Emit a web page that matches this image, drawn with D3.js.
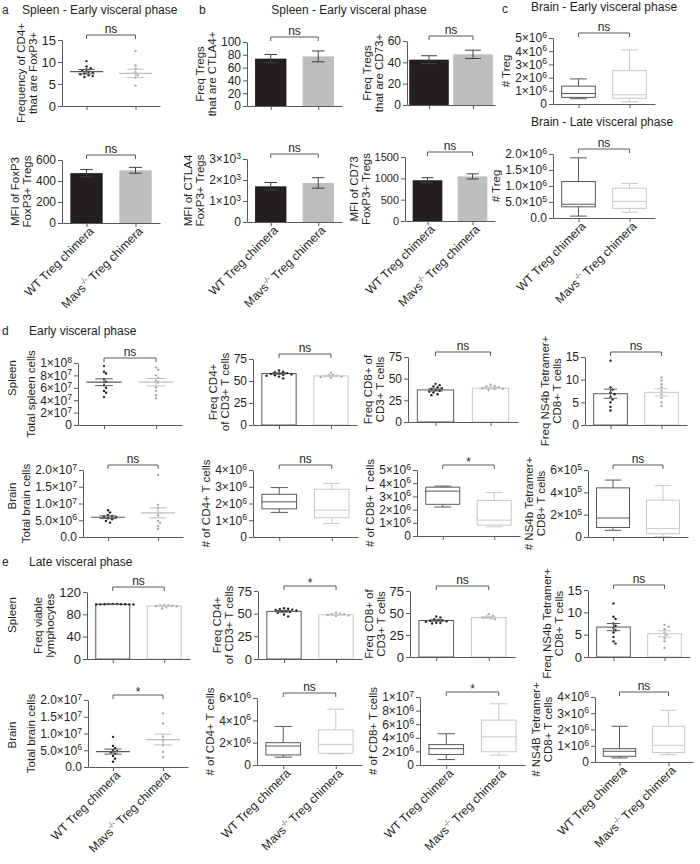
<!DOCTYPE html>
<html>
<head>
<meta charset="utf-8">
<script src="https://cdn.jsdelivr.net/npm/d3@7"></script>
<style>
  body { margin: 0; background: #fff; }
  svg { font-family: "Liberation Sans", Arial, sans-serif; }
  svg text { fill: #231f20; }
  .axis text { font-size: 12px; }
  .axis line, .axis path { stroke: #58595b; }
  .ytitle { font-size: 11.5px; }
  .xlab { font-size: 12px; }
  .head { font-size: 12px; }
  .sig { font-size: 12px; }
</style>
</head>
<body>
<svg id="fig" width="700" height="864"></svg>
<script>

// groups, in order
const groupNames = ["WT Treg chimera", "Mavs-/- Treg chimera"]

// a - spleen, early visceral phase
const a1Dots = [[10.2, 9.0, 8.6, 8.3, 8.0, 7.8, 7.6, 7.4, 7.2, 7.0, 6.8, 6.6], [12.5, 9.2, 8.5, 7.6, 7.0, 6.4, 4.6]]
const a1Mean = [7.8, 7.4], a1Sem = [0.5, 0.95]
const a2Mean = [475, 502], a2Sem = [35, 28]

// b - spleen, early visceral phase
const b1Mean = [74, 77.5], b1Sem = [6.5, 8.5]
const b2Mean = [42.5, 47.5], b2Sem = [3.7, 3.9]
const b3Mean = [1700, 1860], b3Sem = [180, 250]
const b4Mean = [955, 1045], b4Sem = [60, 60]

// c - brain, boxes are [min, q1, median, q3, max]
const c1Box = [[0.4e6, 0.5e6, 0.8e6, 1.35e6, 1.9e6], [0.17e6, 0.43e6, 0.7e6, 2.53e6, 4.1e6]]
const c2Box = [[0.06e6, 0.35e6, 0.43e6, 1.14e6, 1.88e6], [0.18e6, 0.3e6, 0.52e6, 0.93e6, 1.08e6]]

// d - early visceral phase
const d1Dots = [[9.5e7, 8.6e7, 8.3e7, 7.4e7, 7.0e7, 6.4e7, 6.0e7, 5.5e7, 5.2e7, 4.5e7], [9.3e7, 8.9e7, 8.0e7, 7.6e7, 7.2e7, 6.9e7, 6.1e7, 5.5e7, 4.8e7, 4.3e7]]
const d1Mean = [6.9e7, 6.9e7], d1Sem = [0.55e7, 0.6e7]
const d2Dots = [[62, 60.5, 60, 59, 58.5, 58, 57.5, 57, 56.5, 56, 55, 53], [59.5, 57, 56.5, 56, 55.5, 55, 54.5, 54]]
const d2Mean = [58.5, 55.8], d2Sem = [0.8, 0.6]
const d3Dots = [[44, 42.5, 41, 40, 39, 38, 37, 36, 35, 34, 32, 31], [43, 41.5, 41, 40, 39.5, 39, 38.5, 38, 37]]
const d3Mean = [37, 39], d3Sem = [1.2, 0.7]
const d4Dots = [[14.2, 8.3, 7.8, 7.2, 6.8, 6.2, 5.6, 5.0, 4.0, 3.2], [10.5, 9.8, 9.0, 8.3, 7.5, 6.8, 6.0, 5.0, 4.2]]
const d4Mean = [6.9, 7.2], d4Sem = [1.0, 0.8]
const d5Dots = [[8.0e6, 7.3e6, 6.6e6, 6.3e6, 6.1e6, 5.9e6, 5.6e6, 5.3e6, 4.8e6, 4.3e6], [1.85e7, 9.6e6, 8.7e6, 6.5e6, 4.8e6, 4.2e6, 3.3e6, 2.4e6]]
const d5Mean = [5.9e6, 7.2e6], d5Sem = [0.4e6, 1.5e6]
const d6Box = [[1.47e6, 1.68e6, 2.1e6, 2.55e6, 2.95e6], [0.8e6, 1.15e6, 1.6e6, 2.85e6, 3.2e6]]
const d7Box = [[2.2e6, 2.4e6, 3.4e6, 3.7e6, 3.78e6], [0.7e6, 0.83e6, 1.2e6, 2.7e6, 3.3e6]]
const d8Box = [[0.6e5, 0.85e5, 1.7e5, 4.4e5, 5.1e5], [0.02e5, 0.3e5, 0.75e5, 3.3e5, 4.6e5]]

// e - late visceral phase
const e1Dots = [[98.5, 98.4, 98.3, 98.2, 98.1, 98.0, 97.9, 97.8, 97.7, 97.6], [97, 96.5, 96, 95.5, 95, 94.5, 93, 90.5]]
const e1Mean = [98, 95], e1Sem = [0.2, 0.8]
const e2Dots = [[56, 55.5, 55, 54.5, 54, 53.5, 53, 52.5, 52, 51, 49, 47], [51, 50, 49.5, 49, 48.5, 48, 47.5]]
const e2Mean = [52.5, 48.8], e2Sem = [0.8, 0.5]
const e3Dots = [[46, 45, 43, 42, 41.5, 41, 40.5, 40, 39, 38.5, 38], [48.5, 47, 46, 45, 44, 43]]
const e3Mean = [41.5, 44.8], e3Sem = [0.8, 1.0]
const e4Dots = [[12, 9, 8.5, 7.5, 7, 6.5, 6, 5.5, 4.5, 3.5, 3], [7.2, 6.8, 6.2, 5.5, 5, 4.2, 3.5, 2]]
const e4Mean = [6.7, 5.2], e4Sem = [0.8, 0.7]
const e5Dots = [[9.0e6, 6.3e6, 5.6e6, 5.0e6, 4.7e6, 4.4e6, 4.0e6, 3.3e6, 2.5e6, 1.6e6], [1.6e7, 1.3e7, 9.0e6, 8.0e6, 6.5e6, 4.5e6, 3.0e6]]
const e5Mean = [4.6e6, 8.2e6], e5Sem = [0.75e6, 1.6e6]
const e6Box = [[0.7e6, 0.9e6, 1.7e6, 2.0e6, 3.45e6], [1.0e6, 1.05e6, 1.85e6, 3.15e6, 5.0e6]]
const e7Box = [[0.8e6, 1.55e6, 2.4e6, 3.0e6, 4.6e6], [1.45e6, 1.95e6, 4.15e6, 6.6e6, 9.0e6]]
const e8Box = [[0.25e6, 0.35e6, 0.66e6, 0.82e6, 2.2e6], [0.45e6, 0.58e6, 1.03e6, 2.2e6, 3.18e6]]

// tick values
const t15 = [0, 5, 10, 15]
const t75 = [0, 25, 50, 75]
const t100 = [0, 20, 40, 60, 80, 100]
const t60 = [0, 20, 40, 60]
const t120 = [0, 40, 80, 120]
const t600 = [0, 200, 400, 600]
const t1500 = [0, 500, 1000, 1500]
const t3k = [0, 1000, 2000, 3000]
const t5M = [0, 1e6, 2e6, 3e6, 4e6, 5e6]
const t4M = [0, 1e6, 2e6, 3e6, 4e6]
const t6M = [0, 2e6, 4e6, 6e6]
const t10M = [0, 2e6, 4e6, 6e6, 8e6, 1e7]
const t2M = [0, 0.5e6, 1e6, 1.5e6, 2e6]
const t20M = [0, 5e6, 1e7, 1.5e7, 2e7]
const t100M = [0, 2e7, 4e7, 6e7, 8e7, 1e8]
const t600k = [0, 2e5, 4e5, 6e5]

const svg = d3.select("#fig")

const AXIS = "#58595b"
const barFill = ["#231f20", "#bcbec0"]
const stroke = ["#58595b", "#c7c8ca"]
const dotFill = ["#231f20", "#a7a9ac"]

function sciText(sel, dec) {
    sel.each(function(d) {
        var t = d3.select(this).text(null)
        if (d === 0) { t.text(dec ? (0).toFixed(dec) : "0"); return }
        var e = Math.floor(Math.log10(d) + 1e-9)
        t.append("tspan").text((d / Math.pow(10, e)).toFixed(dec) + "×10")
        t.append("tspan").attr("dy", "-0.5em").style("font-size", "0.72em").text(e)
    })
}

// simple beeswarm: nudge dots sideways until they stop overlapping
function swarm(vals, cx, y, r) {
    var placed = []
    var gap = r * 2.3
    return vals.slice().sort((a, b) => b - a).map(function(v) {
        var cy = y(v), ox = 0
        var cands = [0]
        for (var k = 1; k < 12; k++) cands.push(k * gap * 0.75, -k * gap * 0.75)
        for (var c of cands) {
            if (placed.every(q => Math.hypot(q[0] - (cx + c), q[1] - cy) >= gap)) { ox = c; break }
        }
        placed.push([cx + ox, cy])
        return [cx + ox, cy]
    })
}

function errBar(g, cx, y, mean, sem, capW, color) {
    g.append("path")
        .attr("d", `M${cx},${y(mean - sem)}V${y(mean + sem)}M${cx - capW / 2},${y(mean + sem)}h${capW}M${cx - capW / 2},${y(mean - sem)}h${capW}`)
        .attr("fill", "none").attr("stroke", color).attr("stroke-width", 1)
}

function panel(p) {

    var g = svg.append("g")

    var x = d3.scalePoint().domain([0, 1]).range([p.left, p.right]).padding(0.5)
    var y = d3.scaleLinear().domain([0, p.max]).range([p.bottom, p.top])
    var w = p.right - p.left
    var bw = w * (p.barFrac || 0.33)

    // marks first, axes on top
    if (p.kind === "bar" || p.kind === "openbar") {
        var open = p.kind === "openbar"
        p.mean.forEach(function(m, i) {
            g.append("rect")
                .attr("x", x(i) - bw / 2).attr("y", y(m))
                .attr("width", bw).attr("height", y(0) - y(m))
                .attr("fill", open ? "#fff" : barFill[i])
                .attr("stroke", open ? stroke[i] : "none")
        })
        if (p.dots) p.dots.forEach(function(vals, i) {
            swarm(vals, x(i), y, 1.2).forEach(function(pt) {
                g.append("circle").attr("cx", pt[0]).attr("cy", pt[1]).attr("r", 1.2).attr("fill", dotFill[i])
            })
        })
        p.mean.forEach(function(m, i) {
            errBar(g, x(i), y, m, p.sem[i], bw * 0.4, open ? stroke[i] : "#414042")
        })
    }

    if (p.kind === "scatter") {
        p.dots.forEach(function(vals, i) {
            swarm(vals, x(i), y, 1.2).forEach(function(pt) {
                g.append("circle").attr("cx", pt[0]).attr("cy", pt[1]).attr("r", 1.2).attr("fill", dotFill[i])
            })
        })
        p.mean.forEach(function(m, i) {
            var col = i ? "#bcbec0" : "#58595b"
            g.append("line")
                .attr("x1", x(i) - w * 0.17).attr("x2", x(i) + w * 0.17)
                .attr("y1", y(m)).attr("y2", y(m))
                .attr("stroke", col).attr("stroke-width", 1.2)
            errBar(g, x(i), y, m, p.sem[i], w * 0.17, col)
        })
    }

    if (p.kind === "box") {
        p.box.forEach(function(b, i) {
            var cx = x(i), col = stroke[i], cap = bw * 0.5
            g.append("rect")
                .attr("x", cx - bw / 2).attr("y", y(b[3]))
                .attr("width", bw).attr("height", y(b[1]) - y(b[3]))
                .attr("fill", "#fff").attr("stroke", col)
            g.append("path")
                .attr("d", `M${cx - bw / 2},${y(b[2])}h${bw}` +
                    `M${cx},${y(b[3])}V${y(b[4])}M${cx - cap / 2},${y(b[4])}h${cap}` +
                    `M${cx},${y(b[1])}V${y(b[0])}M${cx - cap / 2},${y(b[0])}h${cap}`)
                .attr("fill", "none").attr("stroke", col)
        })
    }

    var ya = g.append("g").attr("class", "axis")
        .attr("transform", `translate(${p.left},0)`)
        .call(d3.axisLeft(y).tickValues(p.ticks).tickSize(4).tickSizeOuter(0).tickPadding(2).tickFormat(d3.format("d")))
    if (p.sci !== undefined) ya.selectAll(".tick text").call(sciText, p.sci)
    if (p.tickFs) ya.selectAll(".tick text").style("font-size", p.tickFs + "px")

    g.append("g").attr("class", "axis")
        .attr("transform", `translate(0,${p.bottom})`)
        .call(d3.axisBottom(x).tickSize(4).tickSizeOuter(0).tickFormat(""))

    g.selectAll(".axis").attr("font-size", null).attr("font-family", null)

    // y title, last line closest to the tick labels
    var bb = ya.node().getBBox()
    var lx = p.left + bb.x - 5
    var cy = (p.top + p.bottom) / 2
    var n = p.ylab.length
    p.ylab.forEach(function(s, i) {
        g.append("text").attr("class", "ytitle")
            .attr("transform", `translate(${lx - (n - 1 - i) * 12},${cy}) rotate(-90)`)
            .attr("text-anchor", "middle").text(s)
    })

    // significance bracket
    var by = p.top - 5
    g.append("path")
        .attr("d", `M${x(0)},${by + 4}V${by}H${x(1)}V${by + 4}`)
        .attr("fill", "none").attr("stroke", AXIS)
    g.append("text").attr("class", "sig")
        .attr("x", (x(0) + x(1)) / 2).attr("y", p.sig === "*" ? by + 1 : by - 2.5)
        .attr("text-anchor", "middle").text(p.sig)

    if (p.xlab) {
        [0, 1].forEach(function(i) {
            var t = g.append("text").attr("class", "xlab")
                .attr("transform", `translate(${x(i) + 8},${p.bottom + 9}) rotate(-45)`)
                .attr("text-anchor", "end")
            if (i === 0) {
                t.text(groupNames[0])
            } else {
                t.append("tspan").text("Mavs")
                t.append("tspan").attr("dy", -5).style("font-size", "7.5px").text("-/-")
                t.append("tspan").attr("dy", 5).text(" Treg chimera")
            }
        })
    }
}

var panels = [
    { kind: "scatter", left: 62, right: 160, top: 40, bottom: 106, max: 15, ticks: t15, tickFs: 13, dots: a1Dots, mean: a1Mean, sem: a1Sem, ylab: ["Frequency of CD4+", "that are FoxP3+"], sig: "ns" },
    { kind: "bar", left: 62, right: 160, top: 160, bottom: 223, max: 600, ticks: t600, mean: a2Mean, sem: a2Sem, ylab: ["MFI of FoxP3", "FoxP3+ Tregs"], sig: "ns", xlab: true },
    { kind: "bar", left: 247, right: 342, top: 42, bottom: 106, max: 100, ticks: t100, mean: b1Mean, sem: b1Sem, ylab: ["Freq Tregs", "that are CTLA4+"], sig: "ns" },
    { kind: "bar", left: 407, right: 495, top: 41, bottom: 105, max: 60, ticks: t60, mean: b2Mean, sem: b2Sem, ylab: ["Freq Tregs", "that are CD73+"], sig: "ns", barFrac: 0.45 },
    { kind: "bar", left: 247, right: 342, top: 159, bottom: 222, max: 3000, ticks: t3k, sci: 0, mean: b3Mean, sem: b3Sem, ylab: ["MFI of CTLA4", "FoxP3+ Tregs"], sig: "ns", xlab: true },
    { kind: "bar", left: 405, right: 495, top: 157, bottom: 221, max: 1500, ticks: t1500, tickFs: 11, mean: b4Mean, sem: b4Sem, ylab: ["MFI of CD73", "FoxP3+ Tregs"], sig: "ns", xlab: true },
    { kind: "box", left: 553, right: 655, top: 38, bottom: 104, max: 5e6, ticks: t5M, sci: 0, box: c1Box, ylab: ["# Treg"], sig: "ns" },
    { kind: "box", left: 553, right: 655, top: 154, bottom: 218, max: 2e6, ticks: t2M, sci: 1, box: c2Box, ylab: ["# Treg"], sig: "ns", xlab: true },

    { kind: "scatter", left: 78, right: 182, top: 363, bottom: 425, max: 1e8, ticks: t100M, sci: 0, dots: d1Dots, mean: d1Mean, sem: d1Sem, ylab: ["Total spleen cells"], sig: "ns" },
    { kind: "openbar", left: 253, right: 357, top: 359, bottom: 425, max: 75, ticks: t75, dots: d2Dots, mean: d2Mean, sem: d2Sem, ylab: ["Freq CD4+", "of CD3+ T cells"], sig: "ns" },
    { kind: "openbar", left: 408, right: 518, top: 357, bottom: 422, max: 75, ticks: t75, dots: d3Dots, mean: d3Mean, sem: d3Sem, ylab: ["Freq CD8+ of", "CD3+ T cells"], sig: "ns" },
    { kind: "openbar", left: 585, right: 687, top: 357, bottom: 425, max: 15, ticks: t15, dots: d4Dots, mean: d4Mean, sem: d4Sem, ylab: ["Freq NS4b Tetramer+", "CD8+ T cells"], sig: "ns" },
    { kind: "scatter", left: 83, right: 183, top: 470, bottom: 537, max: 2e7, ticks: t20M, sci: 1, dots: d5Dots, mean: d5Mean, sem: d5Sem, ylab: ["Total brain cells"], sig: "ns" },
    { kind: "box", left: 253, right: 358, top: 470, bottom: 537, max: 4e6, ticks: t4M, sci: 0, box: d6Box, ylab: ["# of CD4+ T cells"], sig: "ns" },
    { kind: "box", left: 417, right: 520, top: 470, bottom: 536, max: 5e6, ticks: t5M, sci: 0, box: d7Box, ylab: ["# of CD8+ T cells"], sig: "*" },
    { kind: "box", left: 588, right: 688, top: 470, bottom: 537, max: 6e5, ticks: t600k, sci: 0, box: d8Box, ylab: ["# NS4b Tetramer+", "CD8+ T cells"], sig: "ns" },

    { kind: "openbar", left: 87, right: 190, top: 592, bottom: 659, max: 120, ticks: t120, tickFs: 13, dots: e1Dots, mean: e1Mean, sem: e1Sem, ylab: ["Freq viable", "lymphocytes"], sig: "ns" },
    { kind: "openbar", left: 258, right: 362, top: 591, bottom: 659, max: 75, ticks: t75, tickFs: 13, dots: e2Dots, mean: e2Mean, sem: e2Sem, ylab: ["Freq CD4+", "of CD3+ T cells"], sig: "*" },
    { kind: "openbar", left: 410, right: 515, top: 591, bottom: 657, max: 75, ticks: t75, tickFs: 13, dots: e3Dots, mean: e3Mean, sem: e3Sem, ylab: ["Freq CD8+ of", "CD3+ T cells"], sig: "ns" },
    { kind: "openbar", left: 588, right: 690, top: 590, bottom: 657, max: 15, ticks: t15, tickFs: 13, dots: e4Dots, mean: e4Mean, sem: e4Sem, ylab: ["Freq NS4b Tetramer+", "CD8+ T cells"], sig: "ns" },
    { kind: "scatter", left: 88, right: 188, top: 700, bottom: 767, max: 2e7, ticks: t20M, sci: 1, dots: e5Dots, mean: e5Mean, sem: e5Sem, ylab: ["Total brain cells"], sig: "*", xlab: true },
    { kind: "box", left: 257, right: 362, top: 698, bottom: 765, max: 6e6, ticks: t6M, sci: 0, box: e6Box, ylab: ["# of CD4+ T cells"], sig: "ns", xlab: true },
    { kind: "box", left: 420, right: 525, top: 697, bottom: 765, max: 1e7, ticks: t10M, sci: 0, box: e7Box, ylab: ["# of CD8+ T cells"], sig: "*", xlab: true },
    { kind: "box", left: 595, right: 693, top: 697, bottom: 762, max: 4e6, ticks: t4M, sci: 0, box: e8Box, ylab: ["# NS4B Tetramer+", "CD8+ T cells"], sig: "ns", xlab: true }
]

panels.forEach(panel)

// panel letters and headings
var heads = [
    { t: "a", x: 2, y: 14 }, { t: "Spleen - Early visceral phase", x: 22, y: 14 },
    { t: "b", x: 199, y: 14 }, { t: "Spleen - Early visceral phase", x: 349, y: 14, mid: true },
    { t: "c", x: 502, y: 13 }, { t: "Brain - Early visceral phase", x: 531, y: 11 },
    { t: "Brain - Late visceral phase", x: 531, y: 126 },
    { t: "d", x: 2, y: 335 }, { t: "Early visceral phase", x: 29, y: 335 },
    { t: "e", x: 2, y: 566 }, { t: "Late visceral phase", x: 29, y: 566 }
]
heads.forEach(function(h) {
    svg.append("text").attr("class", "head").attr("x", h.x).attr("y", h.y)
        .attr("text-anchor", h.mid ? "middle" : "start").text(h.t)
})

var rows = [{ t: "Spleen", y: 378 }, { t: "Brain", y: 496 }, { t: "Spleen", y: 615 }, { t: "Brain", y: 735 }]
rows.forEach(function(r) {
    svg.append("text").attr("class", "ytitle")
        .attr("transform", `translate(16,${r.y}) rotate(-90)`)
        .attr("text-anchor", "middle").text(r.t)
})

</script>
</body>
</html>
